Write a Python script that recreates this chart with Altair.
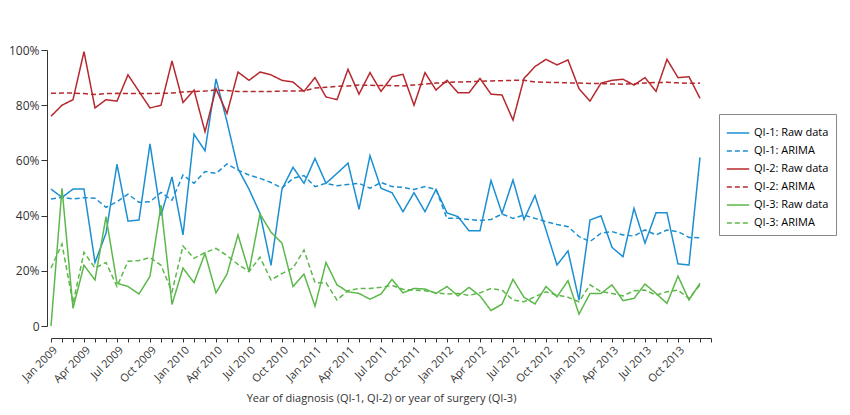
import altair as alt
import pandas as pd

FONT = "Open Sans"
BLUE = "#1b8fd2"
RED = "#b5282d"
GREEN = "#5cb84a"

months = list(range(60))
tick_labels = ["Jan 2009", "Apr 2009", "Jul 2009", "Oct 2009", "Jan 2010", "Apr 2010", "Jul 2010",
               "Oct 2010", "Jan 2011", "Apr 2011", "Jul 2011", "Oct 2011", "Jan 2012", "Apr 2012",
               "Jul 2012", "Oct 2012", "Jan 2013", "Apr 2013", "Jul 2013", "Oct 2013"]

qi1_raw = [49.6, 46.6, 49.6, 49.6, 23, 33.6, 58.6, 38, 38.4, 66, 40, 54, 33, 69.5, 63.5, 89.5, 74, 57,
           49.6, 40.8, 22, 49.6, 57.5, 51.7, 60.7, 51.7, 55.3, 59, 42.3, 61.7, 49.9, 48.3, 41.4, 48.3,
           41.4, 49.5, 41, 39.6, 34.5, 34.5, 52.7, 40.8, 52.9, 38.6, 47.3, 34.8, 22.1, 27.2, 9.4, 38.4,
           39.9, 28.5, 25.1, 42.6, 30, 41, 41, 22.5, 22.1, 61.1]
qi1_arima = [46, 46.6, 46, 46.5, 46.3, 43, 45, 47.8, 44.8, 45, 48.4, 45.6, 54.7, 51.7, 56, 55.3, 58.7,
             56.5, 54.7, 53.5, 52, 50, 53.5, 54.5, 50.5, 51.7, 50.8, 51.3, 51.7, 49.9, 52, 50.5, 50.2,
             49.5, 50.5, 49.5, 39, 39, 38.6, 38.2, 38.6, 40.6, 39, 40.2, 39, 37.8, 36.8, 36, 32.4,
             30.6, 33.6, 34.2, 33, 32.6, 34.8, 33, 34.8, 34.2, 32.1, 32]
qi2_raw = [76, 80, 82, 99.4, 79, 82, 81.5, 91, 85, 79, 80, 96, 81, 85.5, 70.4, 86, 77, 92, 89, 92, 91,
           89, 88.4, 85, 90, 83, 82, 93, 84, 91.8, 85, 90.3, 91.2, 80, 91.8, 85.5, 89, 84.5, 84.5,
           89.7, 84, 83.7, 74.6, 89.7, 94, 96.6, 94.6, 96.4, 86, 81.5, 88, 89, 89.4, 87.3, 90, 85,
           96.6, 90, 90.3, 82.5]
qi2_arima = [84.3, 84.4, 84.4, 84.2, 83.9, 84.2, 84.3, 84.2, 84.2, 84.2, 84.3, 84.4, 84.8, 85, 85.1,
             85.5, 85.3, 85, 85, 85, 85, 85.1, 85.1, 85.2, 86.2, 86.5, 86.8, 87, 87.3, 87.2, 87.1, 87.1,
             87, 87.3, 87.6, 88, 88.3, 88.4, 88.5, 88.7, 88.8, 88.9, 89, 89, 88.4, 88.3, 88.2, 88.1,
             88, 87.9, 87.8, 87.7, 87.6, 87.8, 88, 88.2, 88.3, 88.1, 87.9, 88]
qi3_raw = [0, 49.9, 6.4, 22, 16.7, 39.6, 15.5, 14.3, 11.6, 18, 43.8, 7.8, 21, 15.7, 26.3, 12, 18.8, 33,
           19.7, 40.6, 34, 30, 14.3, 18.8, 7.2, 23, 14.9, 12.4, 11.8, 9.7, 11.6, 16.9, 12, 13.6, 13.4,
           11.8, 14.3, 10.9, 14, 10.9, 5.6, 7.9, 16.9, 10.4, 8, 14.3, 10.6, 16.4, 4.3, 11.8, 11.8,
           14.9, 9.2, 10, 15.2, 11.8, 8.2, 18.1, 9.4, 15.5]
qi3_arima = [21, 29.7, 8.2, 26.7, 21, 23, 14.3, 23.5, 23.7, 24.8, 22, 12.4, 29, 24.5, 26.6, 28.1, 25.5,
             22.3, 19.7, 24.9, 16.7, 19, 21, 27.5, 15.7, 15.7, 9.4, 12.8, 13.6, 13.6, 14, 14.7, 13.3,
             13, 12.8, 12, 11.6, 11.8, 11.1, 12, 13.6, 13, 9.4, 8.8, 10.6, 12.4, 11.2, 10.4, 8.8, 14.9,
             12.4, 11.8, 10.9, 12.8, 13, 11.2, 12.4, 13, 10, 14.9]

series = {
    "QI-1: Raw data": qi1_raw, "QI-1: ARIMA": qi1_arima,
    "QI-2: Raw data": qi2_raw, "QI-2: ARIMA": qi2_arima,
    "QI-3: Raw data": qi3_raw, "QI-3: ARIMA": qi3_arima,
}
names = list(series)
df = pd.concat([pd.DataFrame({"m": months, "v": vals, "s": name}) for name, vals in series.items()])

label_expr = ("datum.value % 3 == 0 && datum.value < 60 ? "
              + str(tick_labels) + "[datum.value / 3] : ''")

chart = alt.Chart(df).mark_line(strokeWidth=1.5).encode(
    x=alt.X("m:Q", scale=alt.Scale(domain=[0, 60], nice=False),
            title="Year of diagnosis (QI-1, QI-2) or year of surgery (QI-3)",
            axis=alt.Axis(values=list(range(61)), labelExpr=label_expr, labelAngle=-45,
                          labelAlign="right", labelBaseline="top", offset=12, grid=False,
                          labelOverlap=False, labelBound=False,
                          tickSize=4, labelPadding=2, titlePadding=8, labelFontSize=11,
                          titleFontSize=11, titleFontWeight="normal")),
    y=alt.Y("v:Q", scale=alt.Scale(domain=[0, 100], nice=False), title=None,
            axis=alt.Axis(values=[0, 20, 40, 60, 80, 100], grid=False, tickSize=6,
                          labelExpr="datum.value == 0 ? '0' : datum.value + '%'",
                          labelFontSize=12, offset=4)),
    color=alt.Color("s:N", sort=names, title=None,
                    scale=alt.Scale(domain=names, range=[BLUE, BLUE, RED, RED, GREEN, GREEN]),
                    legend=alt.Legend(orient="none", legendX=668, legendY=64, strokeColor="#888",
                                      padding=7, symbolType="stroke", symbolSize=500,
                                      symbolStrokeWidth=1.5, labelFontSize=11, rowPadding=1)),
    strokeDash=alt.StrokeDash("s:N", sort=names, legend=None,
                              scale=alt.Scale(domain=names,
                                              range=[[1, 0], [5, 3], [1, 0], [5, 3], [1, 0], [5, 3]])),
).properties(
    width=660, height=276, padding={"top": 36, "left": 0, "right": 5, "bottom": 5}
).configure(font=FONT).configure_axis(
    domainColor="#333", tickColor="#333", labelColor="#333", titleColor="#333"
).configure_view(stroke=None)

chart.save("out.html", embed_options={"renderer": "svg", "actions": False})
